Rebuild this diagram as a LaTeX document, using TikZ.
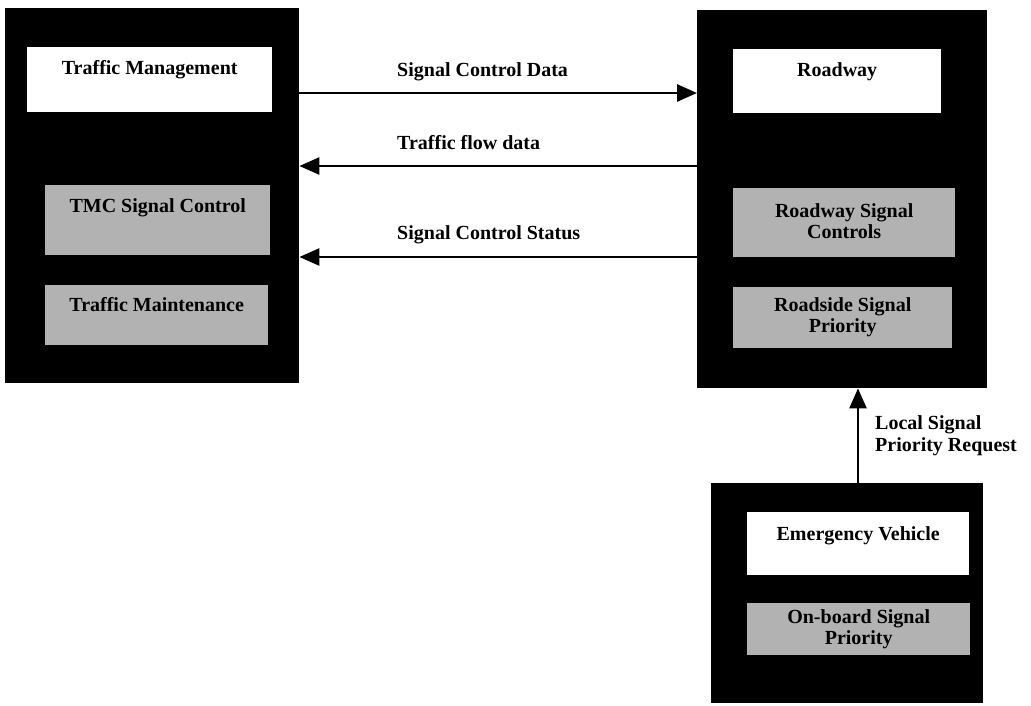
\documentclass[tikz,border=0pt]{standalone}
\usepackage{fontspec}
\setmainfont{Liberation Serif}
\usetikzlibrary{arrows.meta}
\begin{document}
\begin{tikzpicture}[x=1pt,y=-1pt,
  blk/.style={fill=black,draw=none,anchor=north west,inner sep=0pt},
  wbox/.style={fill=white,draw=none,anchor=north west,inner sep=0pt},
  gbox/.style={fill=black!30,draw=none,anchor=north west,inner sep=0pt},
  btext/.style={inner sep=0pt,align=center,font=\fontsize{20}{21}\selectfont\bfseries},
  lbl/.style={inner sep=0pt,anchor=west,align=left,font=\fontsize{20}{22}\selectfont\bfseries},
  arr/.style={line width=2.6pt,-{Triangle[length=20pt,width=17pt]}}]
\useasboundingbox (0,0) rectangle (1031,705);
\fill[white] (0,0) rectangle (1031,705);
% left system
\node[blk,minimum width=294pt,minimum height=375pt] (tm) at (5,8) {};
\node[wbox,minimum width=245pt,minimum height=65pt] (tmh) at (27,47) {};
\node[btext,yshift=10pt] at (tmh.center) {Traffic Management};
\node[gbox,minimum width=225pt,minimum height=70pt] (tmc) at (45,185) {};
\node[btext,yshift=12pt] at (tmc.center) {TMC Signal Control};
\node[gbox,minimum width=223pt,minimum height=60pt] (tmm) at (45,285) {};
\node[btext,yshift=11pt] at (tmm.center) {Traffic Maintenance};
% right system
\node[blk,minimum width=290pt,minimum height=378pt] (rw) at (697,10) {};
\node[wbox,minimum width=208pt,minimum height=64pt] (rwh) at (733,49) {};
\node[btext,yshift=9pt] at (rwh.center) {Roadway};
\node[gbox,minimum width=222pt,minimum height=69pt] (rsc) at (733,188) {};
\node[btext,yshift=2pt] at (rsc.center) {Roadway Signal\\Controls};
\node[gbox,minimum width=219pt,minimum height=61pt] (rsp) at (733,287) {};
\node[btext] at (rsp.center) {Roadside Signal\\Priority};
% emergency vehicle
\node[blk,minimum width=272pt,minimum height=220pt] (ev) at (711,483) {};
\node[wbox,minimum width=222pt,minimum height=63pt] (evh) at (747,512) {};
\node[btext,yshift=8pt] at (evh.center) {Emergency Vehicle};
\node[gbox,minimum width=223pt,minimum height=52pt] (osp) at (747,603) {};
\node[btext] at (osp.center) {On-board Signal\\Priority};
% flows
\coordinate (y1) at (0,93);
\coordinate (y2) at (0,166);
\coordinate (y3) at (0,257);
\draw[arr] (tm.east |- y1) -- (rw.west |- y1);
\draw[arr] (rw.west |- y2) -- (tm.east |- y2);
\draw[arr] (rw.west |- y3) -- (tm.east |- y3);
\coordinate (vx) at (858,0);
\draw[arr] (ev.north -| vx) -- (rw.south -| vx);
\node[lbl] (l1) at (397,72) {Signal Control Data};
\node[lbl] (l2) at (397,143) {Traffic flow data};
\node[lbl] (l3) at (397,235) {Signal Control Status};
\node[lbl] (l4) at (875,436) {Local Signal\\Priority Request};
\end{tikzpicture}
\end{document}
